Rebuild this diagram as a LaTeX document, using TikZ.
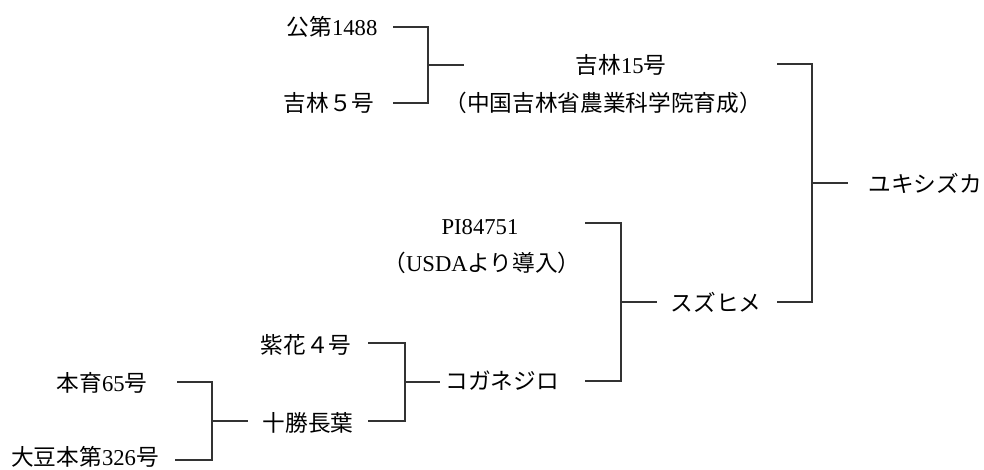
\documentclass[tikz,border=0pt]{standalone}
\usepackage{fontspec}
\setmainfont{Liberation Serif}
\newfontfamily\cjk{Noto Sans CJK JP}
\begin{document}
\begin{tikzpicture}[x=0.75pt,y=-0.75pt,
  lbl/.style={inner sep=0pt, font=\fontsize{17}{20}\selectfont},
  link/.style={line width=0.9pt, black!80}]
\useasboundingbox (0,0) rectangle (984,470);
% labels
\node[lbl] (k1488) at (332,27) {{\cjk 公第}1488};
\node[lbl] (j5) at (329,103) {\cjk 吉林５号};
\node[lbl] (j15) at (621,65) {{\cjk 吉林}15{\cjk 号}};
\node[lbl] (j15b) at (603,103) {\cjk （中国吉林省農業科学院育成）};
\node[lbl] (yuki) at (925,183) {\cjk ユキシズカ};
\node[lbl] (pi) at (480,227) {PI84751};
\node[lbl] (pib) at (482,263) {{\cjk （}USDA{\cjk より導入）}};
\node[lbl] (suzu) at (716,302) {\cjk スズヒメ};
\node[lbl] (shika) at (306,345) {\cjk 紫花４号};
\node[lbl] (kogane) at (502,381) {\cjk コガネジロ};
\node[lbl] (hon65) at (102,383) {{\cjk 本育}65{\cjk 号}};
\node[lbl] (toka) at (308,423) {\cjk 十勝長葉};
\node[lbl] (daizu) at (85,457) {{\cjk 大豆本第}326{\cjk 号}};
% junction coordinates
\coordinate (a1) at (393,27);  \coordinate (a2) at (393,103);
\coordinate (ax) at (428,65);  \coordinate (ae) at (464,65);
\coordinate (b1) at (777,64);  \coordinate (b2) at (777,302);
\coordinate (bx) at (812,183); \coordinate (be) at (848,183);
\coordinate (c1) at (585,223); \coordinate (c2) at (585,381);
\coordinate (cx) at (621,302); \coordinate (ce) at (657,302);
\coordinate (d1) at (368,343); \coordinate (d2) at (368,421);
\coordinate (dx) at (405,382); \coordinate (de) at (440,382);
\coordinate (e1) at (177,382); \coordinate (e2) at (175,460);
\coordinate (ex) at (212,421); \coordinate (ee) at (248,421);
% connectors
\draw[link] (a1) -| (ax) |- (a2);  \draw[link] (ax) -- (ae);
\draw[link] (b1) -| (bx) |- (b2);  \draw[link] (bx) -- (be);
\draw[link] (c1) -| (cx) |- (c2);  \draw[link] (cx) -- (ce);
\draw[link] (d1) -| (dx) |- (d2);  \draw[link] (dx) -- (de);
\draw[link] (e1) -| (ex) |- (e2);  \draw[link] (ex) -- (ee);
\end{tikzpicture}
\end{document}
